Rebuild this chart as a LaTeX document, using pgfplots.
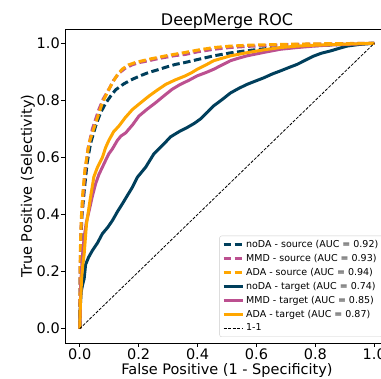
\documentclass[border=0pt]{standalone}
\usepackage{pgfplots}
\pgfplotsset{compat=1.18}
\usepackage{fontspec}
\setmainfont{DejaVu Sans}
\definecolor{cnoda}{HTML}{003F5C}
\definecolor{cmmd}{HTML}{BC5090}
\definecolor{cada}{HTML}{FFA600}
\begin{document}
\begin{tikzpicture}
\begin{axis}[name=ax, scale only axis, width=324pt, height=314pt,
  xmin=-0.05, xmax=1.05, ymin=-0.05, ymax=1.05,
  xtick={0,0.2,0.4,0.6,0.8,1.0}, ytick={0,0.2,0.4,0.6,0.8,1.0},
  /pgf/number format/.cd, fixed, fixed zerofill, precision=1, assume math mode=true, /pgfplots/.cd,
  tick align=outside, major tick length=4pt, tick pos=left,
  tick style={black, line width=0.8pt},
  axis line style={black, line width=0.8pt},
  ticklabel style={font=\fontsize{14.5}{17}\selectfont},
  xticklabel style={inner sep=1pt, yshift=-1pt},
  yticklabel style={inner sep=1pt, xshift=0pt},
  every axis title shift=0pt,
  title={DeepMerge ROC},
  title style={font=\fontsize{16}{19}\selectfont, at={(axis description cs:0.5,1)}, anchor=base, yshift=3.5pt, inner sep=0pt},
  xlabel={False Positive (1 - Specificity)},
  ylabel={True Positive (Selectivity)},
  label style={font=\fontsize{14.5}{17}\selectfont},
  xlabel style={at={(axis description cs:0.5,0)}, anchor=base, yshift=-32pt, inner sep=0pt},
  ylabel style={at={(axis description cs:0,0.5)}, anchor=base, yshift=33pt, inner sep=0pt},
  legend style={at={(axis description cs:1,0)}, anchor=south east, xshift=-6pt, yshift=6pt,
    font=\fontsize{9.5}{11}\selectfont, draw=black!20, rounded corners=2pt, fill=white, fill opacity=0.8, text opacity=1,
    row sep=1.2pt, inner sep=2.5pt},
  legend cell align=left,
  legend image code/.code={\draw[#1] (0pt,0pt) -- (19pt,0pt);},
  every axis plot/.append style={line join=round},
]
\addplot[cnoda, line width=3pt, dash pattern=on 7.5pt off 3.5pt] coordinates {
(0,0) (0.002,0.2) (0.004,0.3) (0.007,0.39) (0.015,0.48) (0.025,0.58) (0.037,0.65) (0.054,0.71) (0.07,0.755) (0.088,0.79) (0.105,0.815) (0.122,0.837) (0.15,0.858) (0.179,0.874) (0.21,0.888) (0.235,0.898) (0.265,0.907) (0.292,0.916) (0.325,0.926) (0.359,0.933) (0.4,0.943) (0.455,0.956) (0.51,0.966) (0.568,0.974) (0.62,0.98) (0.681,0.985) (0.76,0.99) (0.851,0.994) (0.93,0.997) (1,1)};
\addlegendentry{noDA - source (AUC = 0.92)}
\addplot[cmmd, line width=3pt, dash pattern=on 7.5pt off 3.5pt] coordinates {
(0,0) (0.002,0.25) (0.005,0.36) (0.01,0.45) (0.018,0.55) (0.028,0.63) (0.043,0.70) (0.065,0.768) (0.08,0.805) (0.099,0.839) (0.115,0.87) (0.133,0.895) (0.155,0.913) (0.179,0.925) (0.205,0.933) (0.235,0.939) (0.265,0.946) (0.292,0.951) (0.325,0.957) (0.359,0.961) (0.4,0.97) (0.455,0.979) (0.51,0.985) (0.568,0.989) (0.65,0.993) (0.738,0.996) (0.85,0.998) (1,1)};
\addlegendentry{MMD - source (AUC = 0.93)}
\addplot[cada, line width=3pt, dash pattern=on 7.5pt off 3.5pt] coordinates {
(0,0) (0.002,0.27) (0.005,0.38) (0.01,0.47) (0.018,0.56) (0.032,0.651) (0.054,0.721) (0.077,0.792) (0.095,0.83) (0.111,0.862) (0.128,0.89) (0.145,0.91) (0.165,0.924) (0.19,0.933) (0.235,0.944) (0.292,0.956) (0.359,0.968) (0.4,0.976) (0.455,0.985) (0.51,0.99) (0.568,0.993) (0.68,0.996) (0.8,0.998) (1,1)};
\addlegendentry{ADA - source (AUC = 0.94)}
\addplot[cnoda, line width=3pt] coordinates {
(0,0) (0.002,0.08) (0.005,0.13) (0.01,0.155) (0.015,0.175) (0.02,0.225) (0.03,0.25) (0.043,0.274) (0.06,0.30) (0.077,0.333) (0.095,0.355) (0.111,0.379) (0.128,0.41) (0.145,0.438) (0.162,0.467) (0.179,0.496) (0.196,0.531) (0.224,0.566) (0.252,0.613) (0.269,0.63) (0.29,0.652) (0.308,0.672) (0.34,0.692) (0.365,0.705) (0.39,0.72) (0.41,0.735) (0.435,0.76) (0.455,0.781) (0.48,0.80) (0.512,0.826) (0.54,0.842) (0.568,0.856) (0.6,0.869) (0.625,0.879) (0.655,0.893) (0.681,0.903) (0.71,0.915) (0.738,0.926) (0.765,0.94) (0.794,0.955) (0.82,0.965) (0.851,0.973) (0.88,0.982) (0.907,0.99) (0.95,0.996) (1,1)};
\addlegendentry{noDA - target (AUC = 0.74)}
\addplot[cmmd, line width=3pt] coordinates {
(0,0) (0.002,0.05) (0.003,0.145) (0.008,0.24) (0.015,0.32) (0.022,0.37) (0.032,0.414) (0.043,0.465) (0.054,0.508) (0.065,0.54) (0.077,0.566) (0.088,0.59) (0.099,0.613) (0.111,0.63) (0.128,0.66) (0.14,0.675) (0.156,0.686) (0.18,0.715) (0.201,0.745) (0.23,0.77) (0.258,0.792) (0.285,0.815) (0.314,0.839) (0.34,0.855) (0.37,0.87) (0.399,0.886) (0.43,0.898) (0.455,0.909) (0.485,0.925) (0.512,0.939) (0.54,0.948) (0.568,0.956) (0.625,0.968) (0.681,0.979) (0.738,0.985) (0.794,0.99) (0.85,0.994) (0.907,0.996) (1,1)};
\addlegendentry{MMD - target (AUC = 0.85)}
\addplot[cada, line width=3pt] coordinates {
(0,0) (0.002,0.075) (0.006,0.17) (0.01,0.22) (0.015,0.26) (0.023,0.367) (0.035,0.45) (0.048,0.532) (0.06,0.565) (0.077,0.60) (0.088,0.635) (0.099,0.66) (0.115,0.69) (0.133,0.71) (0.155,0.74) (0.179,0.768) (0.205,0.79) (0.235,0.815) (0.262,0.835) (0.292,0.856) (0.325,0.872) (0.359,0.886) (0.38,0.897) (0.399,0.909) (0.43,0.925) (0.455,0.939) (0.485,0.948) (0.512,0.956) (0.568,0.967) (0.625,0.977) (0.681,0.985) (0.738,0.99) (0.794,0.993) (0.9,0.997) (1,1)};
\addlegendentry{ADA - target (AUC = 0.87)}
\addplot[black, line width=0.8pt, dash pattern=on 3pt off 1.5pt] coordinates {(0,0) (1,1)};
\addlegendentry{1-1}
\end{axis}
\pgfresetboundingbox
\useasboundingbox ([xshift=-65pt,yshift=-36pt]ax.south west) rectangle ([xshift=316pt,yshift=29pt]ax.north west);
\end{tikzpicture}
\end{document}
